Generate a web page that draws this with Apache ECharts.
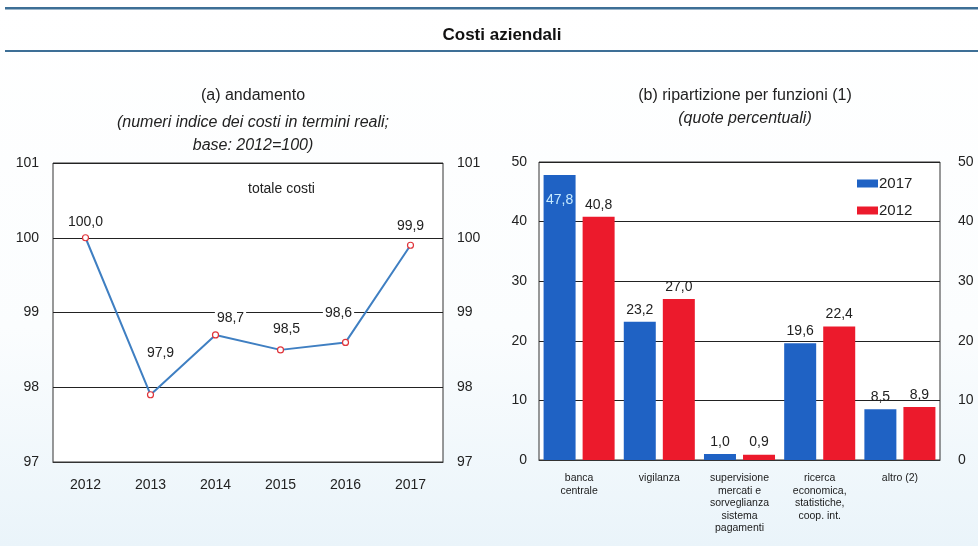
<!DOCTYPE html>
<html>
<head>
<meta charset="utf-8">
<script src="https://cdn.jsdelivr.net/npm/echarts@6/dist/echarts.min.js"></script>
<style>
  html, body { margin: 0; padding: 0; background: #fff; }
  #chart { width: 978px; height: 546px; }
</style>
</head>
<body>
<div id="chart"></div>
<script>
// (a) andamento - numeri indice
const years = ['2012', '2013', '2014', '2015', '2016', '2017'];
const totaleCosti = [100.0, 97.9, 98.7, 98.5, 98.6, 99.9];

// (b) ripartizione per funzioni
const funzioni = [
  'banca\ncentrale',
  'vigilanza',
  'supervisione\nmercati e\nsorveglianza\nsistema\npagamenti',
  'ricerca\neconomica,\nstatistiche,\ncoop. int.',
  'altro (2)'
];
const quote2017 = [47.8, 23.2, 1.0, 19.6, 8.5];
const quote2012 = [40.8, 27.0, 0.9, 22.4, 8.9];

const FONT = 'Liberation Sans';
const fmt = v => v.toFixed(1).replace('.', ',');

// label nudges for the line chart (to sit like the original)
const lineLabelShift = [[0, 0], [10, -26], [15, -1], [6, -5], [-7, -14], [0, -3]];

const chart = echarts.init(document.getElementById('chart'));

const axisLbl = { color: '#222', fontSize: 14, fontFamily: FONT };

var option = {
  backgroundColor: {
    type: 'linear', x: 0, y: 0, x2: 0, y2: 1,
    colorStops: [{ offset: 0, color: '#ffffff' }, { offset: 0.6, color: '#fbfdfe' }, { offset: 1, color: '#eaf4fa' }]
  },
  animation: false,
  title: [
    { text: 'Costi aziendali', left: 497, top: 22, textAlign: 'center',
      textStyle: { fontSize: 17, fontWeight: 'bold', color: '#111', fontFamily: FONT } },
    { text: '(a) andamento', left: 248, top: 83, textAlign: 'center',
      textStyle: { fontSize: 16, fontWeight: 'normal', color: '#222', fontFamily: FONT } },
    { text: '(numeri indice dei costi in termini reali;\nbase: 2012=100)', left: 248, top: 106, textAlign: 'center',
      textStyle: { fontSize: 16, fontWeight: 'normal', fontStyle: 'italic', color: '#222', fontFamily: FONT, lineHeight: 23 } },
    { text: '(b) ripartizione per funzioni (1)', left: 740, top: 83, textAlign: 'center',
      textStyle: { fontSize: 16, fontWeight: 'normal', color: '#222', fontFamily: FONT } },
    { text: '(quote percentuali)', left: 740, top: 106, textAlign: 'center',
      textStyle: { fontSize: 16, fontWeight: 'normal', fontStyle: 'italic', color: '#222', fontFamily: FONT } }
  ],
  graphic: [
    { type: 'rect', shape: { x: 5, y: 7, width: 973, height: 2.5 }, style: { fill: '#3d6f96' } },
    { type: 'rect', shape: { x: 5, y: 50, width: 973, height: 2 }, style: { fill: '#3d6f96' } },
    { type: 'text', left: 248, top: 182, style: { text: 'totale costi', fill: '#222', font: '14px ' + FONT, textAlign: 'center' } }
  ],
  legend: {
    data: ['2017', '2012'],
    orient: 'vertical',
    left: 852,
    top: 171,
    itemWidth: 21,
    itemHeight: 8,
    itemGap: 12,
    icon: 'rect',
    textStyle: { fontSize: 15, color: '#222', fontFamily: FONT, padding: [0, 0, 0, -4] }
  },
  grid: [
    { left: 53, top: 163, width: 390, height: 299, show: true, backgroundColor: '#fff', borderColor: '#333', borderWidth: 1 },
    { left: 539, top: 162, width: 401, height: 298, show: true, backgroundColor: '#fff', borderColor: '#333', borderWidth: 1 }
  ],
  xAxis: [
    {
      gridIndex: 0, type: 'category', data: years, boundaryGap: true,
      axisLine: { lineStyle: { color: '#333' } },
      axisTick: { inside: true, length: 5, lineStyle: { color: '#333' } },
      axisLabel: Object.assign({ margin: 16 }, axisLbl)
    },
    {
      gridIndex: 1, type: 'category', data: funzioni,
      axisLine: { lineStyle: { color: '#333' } },
      axisTick: { inside: true, length: 4, lineStyle: { color: '#333' } },
      axisLabel: { color: '#1a1a1a', fontSize: 10.5, fontFamily: FONT, lineHeight: 12.5, margin: 12, interval: 0 }
    }
  ],
  yAxis: [
    {
      gridIndex: 0, min: 97, max: 101, interval: 1,
      axisLine: { show: false }, axisTick: { show: false },
      axisLabel: Object.assign({ margin: 14 }, axisLbl),
      splitLine: { lineStyle: { color: '#222', width: 1 } }
    },
    {
      gridIndex: 0, min: 97, max: 101, interval: 1, position: 'right',
      axisLine: { show: false }, axisTick: { show: false },
      axisLabel: Object.assign({ margin: 14 }, axisLbl),
      splitLine: { show: false }
    },
    {
      gridIndex: 1, min: 0, max: 50, interval: 10,
      axisLine: { show: false }, axisTick: { show: false },
      axisLabel: Object.assign({ margin: 12 }, axisLbl),
      splitLine: { lineStyle: { color: '#222', width: 1 } }
    },
    {
      gridIndex: 1, min: 0, max: 50, interval: 10, position: 'right',
      axisLine: { show: false }, axisTick: { show: false },
      axisLabel: Object.assign({ margin: 18 }, axisLbl),
      splitLine: { show: false }
    }
  ],
  series: [
    {
      name: 'totale costi',
      type: 'line',
      xAxisIndex: 0, yAxisIndex: 0,
      data: totaleCosti.map((v, i) => ({
        value: v,
        label: { offset: lineLabelShift[i] }
      })),
      lineStyle: { color: '#3f7fc2', width: 2 },
      symbol: 'circle',
      symbolSize: 6,
      itemStyle: { color: '#fff', borderColor: '#e0343a', borderWidth: 1.2 },
      label: {
        show: true, position: 'top', distance: 5,
        formatter: p => fmt(p.value),
        color: '#222', fontSize: 14, fontFamily: FONT,
        backgroundColor: '#fff', padding: [0, 2]
      },
      z: 5
    },
    {
      name: '2017',
      type: 'bar',
      xAxisIndex: 1, yAxisIndex: 2,
      data: quote2017.map((v, i) => i === 0
        ? { value: v, label: { position: 'insideTop', color: '#c8ecff', distance: 18 } }
        : v),
      barWidth: 32,
      barGap: '22%',
      itemStyle: { color: '#1f62c4' },
      label: { show: true, position: 'top', distance: 5, formatter: p => fmt(p.value), color: '#222', fontSize: 14, fontFamily: FONT }
    },
    {
      name: '2012',
      type: 'bar',
      xAxisIndex: 1, yAxisIndex: 2,
      data: quote2012,
      barWidth: 32,
      barGap: '22%',
      itemStyle: { color: '#ec1a2c' },
      label: { show: true, position: 'top', distance: 5, formatter: p => fmt(p.value), color: '#222', fontSize: 14, fontFamily: FONT }
    }
  ]
};

chart.setOption(option);
</script>
</body>
</html>
